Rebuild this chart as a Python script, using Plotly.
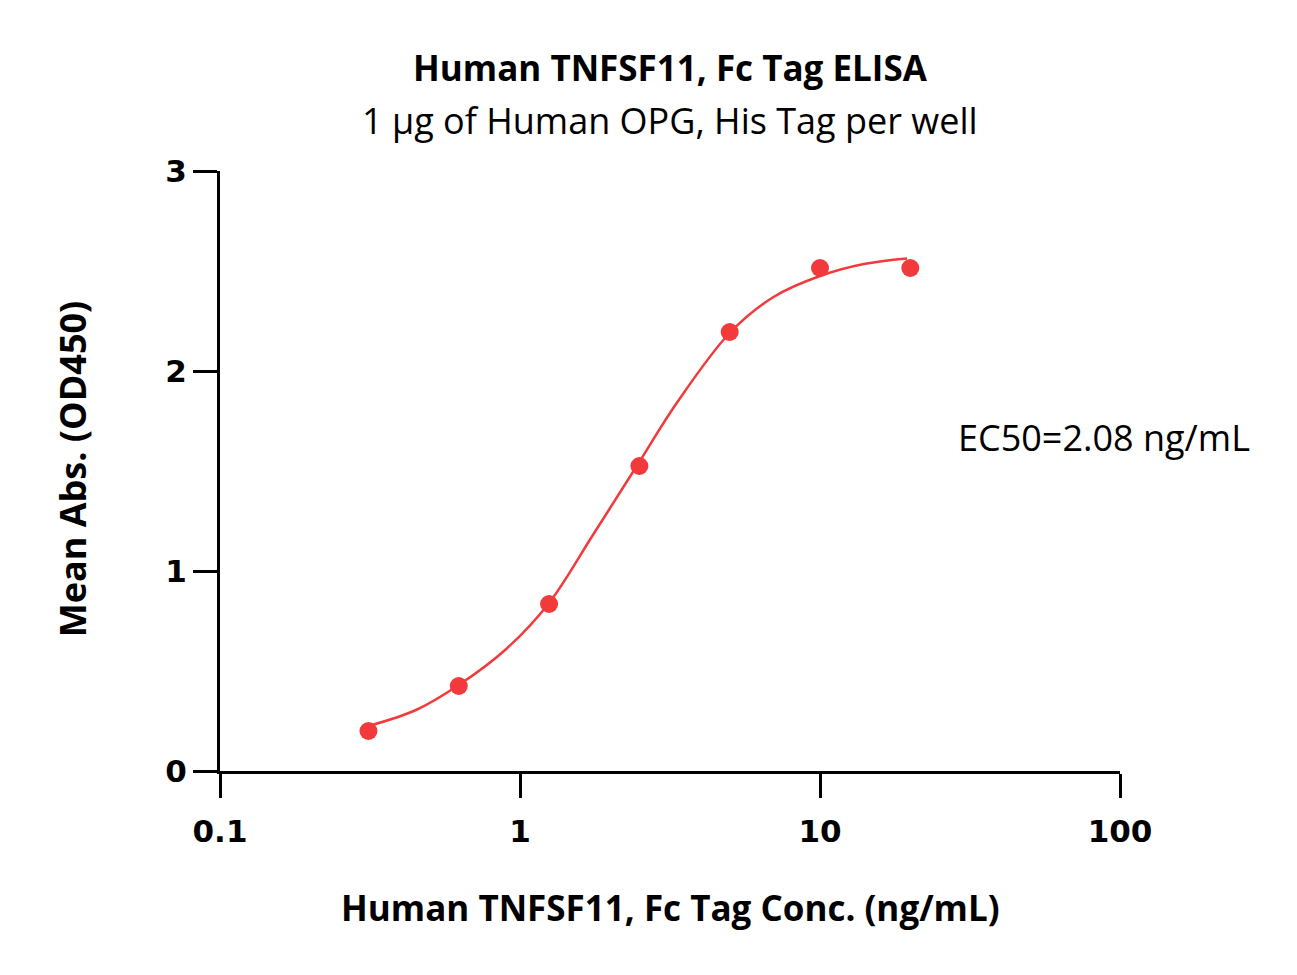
import plotly.graph_objects as go

# Measured data points
conc = [0.3125, 0.625, 1.25, 2.5, 5, 10, 20]
od450 = [0.20, 0.425, 0.835, 1.525, 2.195, 2.515, 2.515]

# Fitted curve
curve_conc = [0.3125, 0.45, 0.625, 0.9, 1.25, 1.75, 2.45, 3.33, 5, 7, 10, 14, 19.5]
curve_od = [0.225, 0.305, 0.43, 0.61, 0.84, 1.18, 1.525, 1.84, 2.19, 2.37, 2.475, 2.535, 2.563]

x_tickvals = [0.1, 1, 10, 100]
x_ticktext = ["0.1", "1", "10", "100"]
y_tickvals = [0, 1, 2, 3]

title = "Human TNFSF11, Fc Tag ELISA"
subtitle = "1 µg of Human OPG, His Tag per well"
x_title = "Human TNFSF11, Fc Tag Conc. (ng/mL)"
y_title = "Mean Abs. (OD450)"
ec50_text = "EC50=2.08 ng/mL"

RED = "#F23A3C"
TXT = "'Open Sans', sans-serif"
TICKF = "'DejaVu Sans', Verdana, sans-serif"

fig = go.Figure()
fig.add_trace(go.Scatter(x=curve_conc, y=curve_od, mode="lines",
                         line=dict(color=RED, width=2.5, shape="spline", smoothing=1.0),
                         hoverinfo="skip", showlegend=False))
fig.add_trace(go.Scatter(x=conc, y=od450, mode="markers",
                         marker=dict(color=RED, size=18, line=dict(width=0)),
                         showlegend=False))

fig.update_layout(
    width=1297, height=975,
    margin=dict(l=220, r=177, t=171, b=204),
    paper_bgcolor="white", plot_bgcolor="white",
    showlegend=False,
    xaxis=dict(type="log", range=[-1, 2], tickvals=x_tickvals, ticktext=x_ticktext,
               showline=True, linecolor="black", linewidth=3,
               ticks="outside", ticklen=24, tickwidth=3, tickcolor="black",
               showgrid=False, zeroline=False, ticklabelstandoff=7,
               tickfont=dict(family=TICKF, size=31, color="black", weight="bold")),
    yaxis=dict(range=[0, 3], tickvals=y_tickvals,
               showline=True, linecolor="black", linewidth=3,
               ticks="outside", ticklen=24, tickwidth=3, tickcolor="black",
               showgrid=False, zeroline=False,
               tickfont=dict(family=TICKF, size=31, color="black", weight="bold")),
    annotations=[
        dict(text="<b>" + title + "</b>", xref="paper", yref="paper", x=0.5, y=1.1717,
             xanchor="center", yanchor="middle", showarrow=False,
             font=dict(family=TXT, size=35, color="black")),
        dict(text=subtitle, xref="paper", yref="paper", x=0.5, y=1.085,
             xanchor="center", yanchor="middle", showarrow=False,
             font=dict(family=TXT, size=36, color="black")),
        dict(text="<b>" + x_title + "</b>", xref="paper", yref="paper", x=0.5, y=-0.228,
             xanchor="center", yanchor="middle", showarrow=False,
             font=dict(family=TXT, size=35, color="black")),
        dict(text="<b>" + y_title + "</b>", xref="paper", yref="paper", x=-0.1644, y=0.503,
             xanchor="center", yanchor="middle", showarrow=False, textangle=-90,
             font=dict(family=TXT, size=36, color="black")),
        dict(text=ec50_text, xref="paper", yref="y", x=0.818, y=1.67,
             xanchor="left", yanchor="middle", showarrow=False,
             font=dict(family=TXT, size=36, color="black")),
    ],
)

fig.write_html("out.html")
